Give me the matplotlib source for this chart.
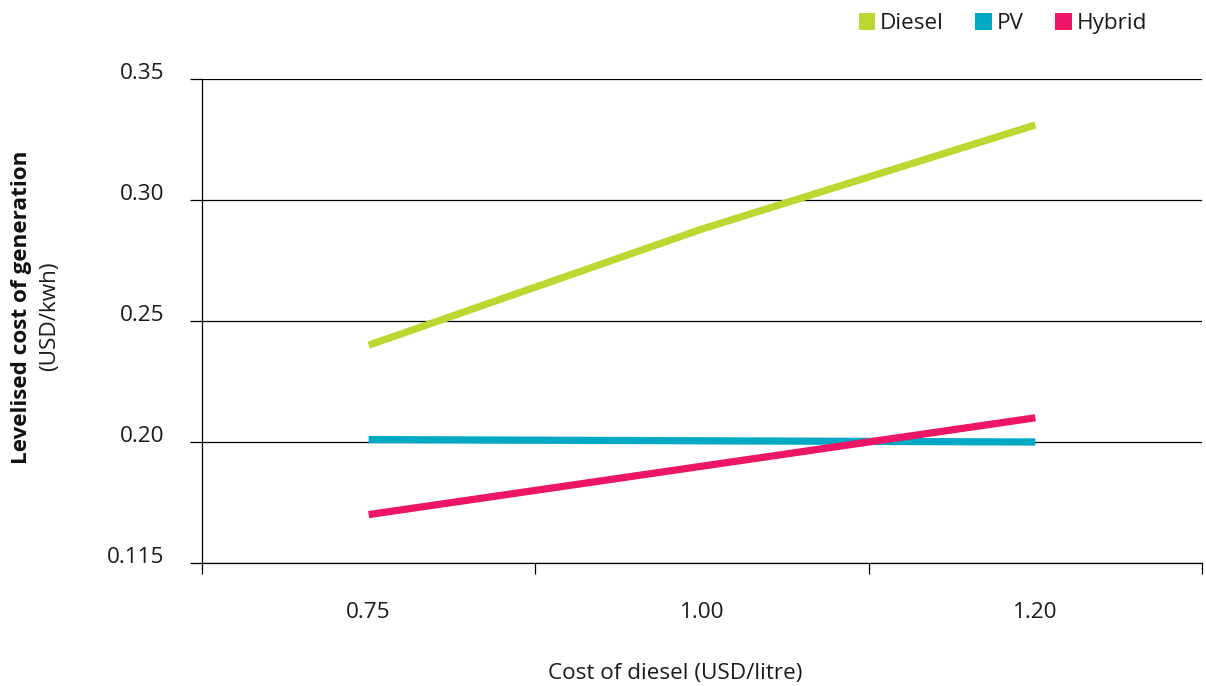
import matplotlib
matplotlib.use("Agg")
import matplotlib.pyplot as plt
from matplotlib.patches import Patch

# Data
diesel_cost = ["0.75", "1.00", "1.20"]
diesel = [0.240, 0.288, 0.331]
pv = [0.201, 0.2005, 0.200]
hybrid = [0.170, 0.190, 0.210]

y_ticks = [0.15, 0.20, 0.25, 0.30, 0.35]
y_tick_labels = ["0.115", "0.20", "0.25", "0.30", "0.35"]

series_names = ["Diesel", "PV", "Hybrid"]
colors = ["#BED630", "#00A9C3", "#EC1566"]

plt.rcParams["font.family"] = ["Open Sans", "DejaVu Sans"]
FS = 16.2
TXT = "#1a1a1a"

fig = plt.figure(figsize=(12.06, 6.86), dpi=100)
ax = fig.add_axes([202 / 1206, (686 - 563) / 686, 1000 / 1206, (563 - 79) / 686])

x = list(range(len(diesel_cost)))
for vals, c in zip([diesel, pv, hybrid], colors):
    ax.plot(x, vals, color=c, linewidth=5.2, solid_capstyle="butt", zorder=3)

ax.set_xlim(-0.5, len(diesel_cost) - 0.5)
ax.set_ylim(y_ticks[0], y_ticks[-1])

# y axis
ax.set_yticks(y_ticks)
ax.set_yticklabels(y_tick_labels)
for lbl in ax.get_yticklabels():
    lbl.set_verticalalignment("baseline")
ax.grid(axis="y", color="black", linewidth=0.9, zorder=1)
ax.tick_params(axis="y", length=9, width=0.9, color="black", pad=18,
               labelsize=FS, labelcolor=TXT)

# x axis: category labels centred, tick marks at the category boundaries
ax.set_xticks([i - 0.5 for i in range(len(diesel_cost) + 1)])
ax.set_xticklabels([""] * (len(diesel_cost) + 1))
ax.set_xticks(x, minor=True)
ax.set_xticklabels(diesel_cost, minor=True)
ax.tick_params(axis="x", which="major", length=8, width=0.9, color="black",
               direction="out")
ax.tick_params(axis="x", which="minor", length=0, pad=28, labelsize=FS,
               labelcolor=TXT)

for s in ["top", "right"]:
    ax.spines[s].set_visible(False)
for s in ["left", "bottom"]:
    ax.spines[s].set_color("black")
    ax.spines[s].set_linewidth(0.9)

fig.text(675 / 1206, 1 - 673 / 686, "Cost of diesel (USD/litre)", ha="center",
         va="center", fontsize=FS, color=TXT)

# two-line y label: bold title plus units
fig.text(22 / 1206, 1 - 307 / 686, "Levelised cost of generation", rotation=90,
         ha="center", va="center", fontsize=FS, fontweight="bold", color="#111111")
fig.text(50 / 1206, 1 - 316 / 686, "(USD/kwh)", rotation=90,
         ha="center", va="center", fontsize=FS, color=TXT)

handles = [Patch(facecolor=c, edgecolor="none") for c in colors]
fig.legend(handles, series_names, loc="upper right",
           bbox_to_anchor=(1167 / 1206, 1 + 7 / 686), ncol=3, frameon=False,
           fontsize=FS, handlelength=0.75, handleheight=0.75, handletextpad=0.2,
           columnspacing=1.4, labelcolor=TXT)

fig.savefig("out.png", dpi=100, facecolor="white")
